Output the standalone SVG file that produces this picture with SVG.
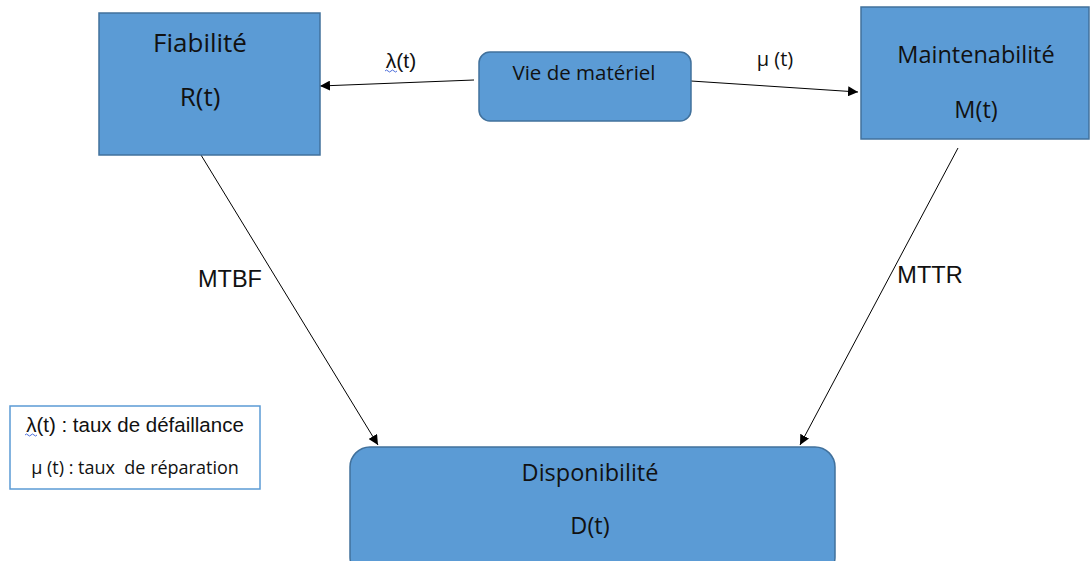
<svg xmlns="http://www.w3.org/2000/svg" width="1091" height="561" viewBox="0 0 1091 561">
  <style>
    .box { fill: #5b9bd5; stroke: #41719c; stroke-width: 1.5; }
    .lbl { font-family: "Open Sans", "Liberation Sans", sans-serif; fill: #111; text-anchor: middle; }
    .edge { stroke: #000; stroke-width: 1; fill: none; marker-end: url(#arrow); }
    .elbl { font-family: "Liberation Sans", Arial, sans-serif; fill: #111; text-anchor: middle; }
    .squiggle { stroke: #3a5fd6; stroke-width: 0.9; fill: none; }
  </style>
  <defs>
    <marker id="arrow" viewBox="0 0 10 10" refX="10" refY="5" markerWidth="10" markerHeight="10" markerUnits="userSpaceOnUse" orient="auto">
      <path d="M0,0 L10,5 L0,10 z" fill="#000"/>
    </marker>
  </defs>

  <rect width="1091" height="561" fill="#fff"/>

  <!-- connectors -->
  <g id="connectors">
    <line class="edge" x1="474" y1="80" x2="320" y2="86"/>
    <line class="edge" x1="691" y1="81" x2="858" y2="92"/>
    <line class="edge" x1="201" y1="155" x2="378" y2="445"/>
    <line class="edge" x1="958" y1="148" x2="800" y2="445"/>
    <text class="elbl" x="401" y="68" font-size="21">λ(t)</text>
    <path class="squiggle" d="M385,71 q1.5,-2 3,0 t3,0 t3,0 t3,0"/>
    <text class="lbl" x="775" y="66" font-size="20" font-weight="500">μ (t)</text>
    <text class="elbl" x="230" y="287" font-size="23.5">MTBF</text>
    <text class="elbl" x="930" y="283" font-size="23.5">MTTR</text>
  </g>

  <g id="fiabilite">
    <rect class="box" x="99" y="13" width="221" height="142"/>
    <text class="lbl" x="200" y="52" font-size="26">Fiabilité</text>
    <text class="lbl" x="200" y="106" font-size="26">R(t)</text>
  </g>

  <g id="vie-materiel">
    <rect class="box" x="479" y="52" width="212" height="69" rx="11"/>
    <text class="lbl" x="584" y="80" font-size="20.5">Vie de matériel</text>
  </g>

  <g id="maintenabilite">
    <rect class="box" x="861" y="7" width="228" height="132"/>
    <text class="lbl" x="976" y="63" font-size="23.5">Maintenabilité</text>
    <text class="lbl" x="976" y="118" font-size="23.5">M(t)</text>
  </g>

  <g id="disponibilite">
    <rect class="box" x="350" y="447" width="485" height="130" rx="20"/>
    <text class="lbl" x="590" y="481" font-size="23.5">Disponibilité</text>
    <text class="lbl" x="590" y="534" font-size="23.5">D(t)</text>
  </g>

  <g id="legende">
    <rect x="10" y="406" width="250" height="83" fill="#fff" stroke="#5b9bd5" stroke-width="1.5"/>
    <text class="elbl" x="135" y="432" font-size="20.5">λ(t) : taux de défaillance</text>
    <path class="squiggle" d="M25,435 q1.5,-2 3,0 t3,0 t3,0 t3,0"/>
    <text class="lbl" x="135" y="474" font-size="18" xml:space="preserve">μ (t) : taux  de réparation</text>
  </g>
</svg>
